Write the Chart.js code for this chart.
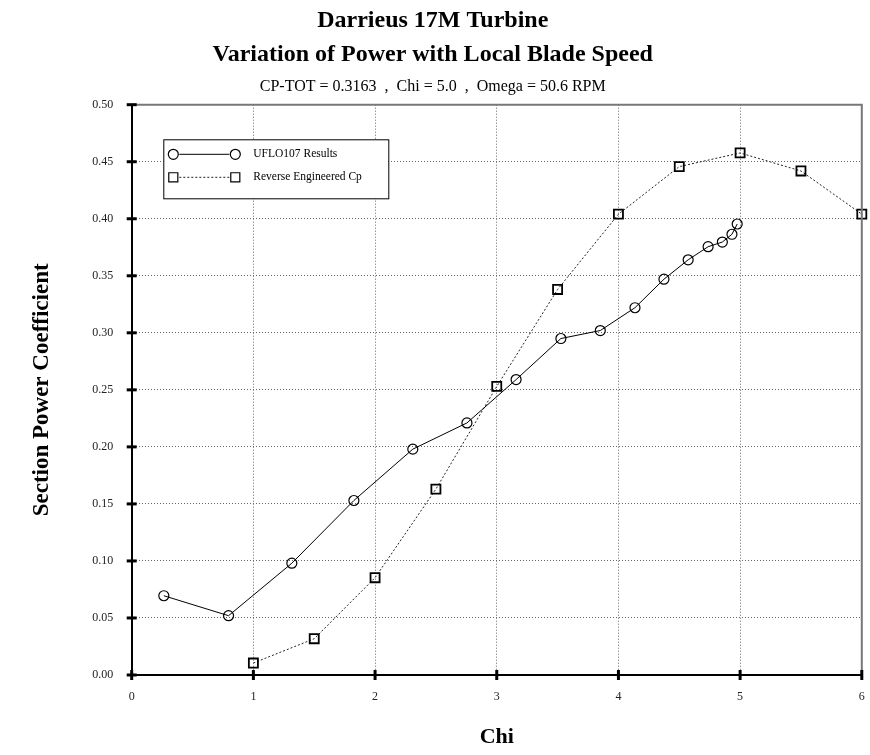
<!DOCTYPE html>
<html>
<head>
<meta charset="utf-8">
<script src="https://cdn.jsdelivr.net/npm/chart.js@4/dist/chart.umd.min.js"></script>
<style>
  body { margin: 0; background: #fff; }
  #wrap { width: 870px; height: 755px; }
</style>
</head>
<body>
<div id="wrap"><canvas id="cpChart"></canvas></div>
<script>
// UFLO107 results (circles, solid line)
const ufloChi = [0.264, 0.796, 1.316, 1.826, 2.31, 2.755, 3.159, 3.527, 3.851, 4.136, 4.374, 4.573, 4.737, 4.854, 4.933, 4.976];
const ufloCp  = [0.0695, 0.052, 0.098, 0.153, 0.198, 0.221, 0.259, 0.295, 0.302, 0.322, 0.347, 0.364, 0.3755, 0.3796, 0.3864, 0.3954];

// Reverse engineered Cp (squares, dotted line)
const revChi = [1, 1.5, 2, 2.5, 3, 3.5, 4, 4.5, 5, 5.5, 6];
const revCp  = [0.0105, 0.0318, 0.0853, 0.163, 0.253, 0.338, 0.404, 0.4457, 0.4577, 0.4419, 0.404];

const xTickLabels = ['0', '1', '2', '3', '4', '5', '6'];
const yTickLabels = ['0.00', '0.05', '0.10', '0.15', '0.20', '0.25', '0.30', '0.35', '0.40', '0.45', '0.50'];

const seriesNames = ['UFLO107 Results', 'Reverse Engineered Cp'];

const FONT = '"Liberation Serif", "Times New Roman", serif';
Chart.defaults.color = '#000';
Chart.defaults.font.family = FONT;

function toPoints(xs, ys) {
    return xs.map((x, i) => ({ x: x, y: ys[i] }));
}

// frame, crossing tick marks and the boxed legend
const decorations = {
    id: 'decorations',
    afterDatasetsDraw(chart) {
        const { ctx, chartArea: a, scales } = chart;
        ctx.save();

        // top and right edges
        ctx.strokeStyle = '#777';
        ctx.lineWidth = 2;
        ctx.beginPath();
        ctx.moveTo(a.left, a.top);
        ctx.lineTo(a.right, a.top);
        ctx.lineTo(a.right, a.bottom);
        ctx.stroke();

        // tick marks across the axes
        ctx.strokeStyle = '#000';
        ctx.lineWidth = 3;
        scales.y.ticks.forEach(t => {
            const py = scales.y.getPixelForValue(t.value);
            ctx.beginPath();
            ctx.moveTo(a.left - 5, py);
            ctx.lineTo(a.left + 5, py);
            ctx.stroke();
        });
        scales.x.ticks.forEach(t => {
            const px = scales.x.getPixelForValue(t.value);
            ctx.beginPath();
            ctx.moveTo(px, a.bottom - 5);
            ctx.lineTo(px, a.bottom + 5);
            ctx.stroke();
        });

        // legend box
        const bx = a.left + 31.6, by = a.top + 34.6, bw = 225, bh = 59;
        ctx.fillStyle = '#fff';
        ctx.fillRect(bx, by, bw, bh);
        ctx.lineWidth = 1;
        ctx.strokeStyle = '#000';
        ctx.strokeRect(bx + 0.5, by + 0.5, bw, bh);

        const rows = [by + 15, by + 38];
        const m1 = bx + 10, m2 = bx + 72;
        chart.data.datasets.forEach((ds, i) => {
            const ry = rows[i];
            ctx.strokeStyle = ds.borderColor;
            ctx.lineWidth = 1;
            ctx.setLineDash(ds.borderDash || []);
            ctx.beginPath();
            ctx.moveTo(m1 + 6, ry);
            ctx.lineTo(m2 - 6, ry);
            ctx.stroke();
            ctx.setLineDash([]);
            ctx.fillStyle = 'rgba(0,0,0,0)';
            ctx.strokeStyle = '#000';
            ctx.lineWidth = 1.2;
            [m1, m2].forEach(mx => {
                Chart.helpers.drawPoint(ctx, {
                    pointStyle: ds.pointStyle,
                    radius: ds.pointRadius,
                    borderWidth: 1.2
                }, mx, ry);
            });
            ctx.fillStyle = '#000';
            ctx.font = '11.5px ' + FONT;
            ctx.textBaseline = 'middle';
            ctx.textAlign = 'left';
            ctx.fillText(ds.label, bx + 90, ry);
        });
        ctx.restore();
    }
};

const ctx = document.getElementById('cpChart').getContext('2d');
const cpChart = new Chart(ctx, {
    type: 'scatter',
    data: {
        datasets: [
            {
                label: seriesNames[0],
                data: toPoints(ufloChi, ufloCp),
                showLine: true,
                borderColor: '#000',
                borderWidth: 1,
                pointStyle: 'circle',
                pointRadius: 5,
                pointBorderWidth: 1.2,
                pointBorderColor: '#000',
                pointBackgroundColor: 'rgba(0,0,0,0)',
                clip: 12
            },
            {
                label: seriesNames[1],
                data: toPoints(revChi, revCp),
                showLine: true,
                borderColor: '#222',
                borderWidth: 1,
                borderDash: [2, 2],
                pointStyle: 'rect',
                pointRadius: 6.4,
                pointBorderWidth: 1.8,
                pointBorderColor: '#000',
                pointBackgroundColor: 'rgba(0,0,0,0)',
                clip: 12
            }
        ]
    },
    options: {
        responsive: true,
        maintainAspectRatio: false,
        animation: false,
        layout: { padding: { left: 0, right: 4.5, top: 0, bottom: 0 } },
        plugins: {
            legend: { display: false },
            tooltip: { enabled: false },
            title: {
                display: true,
                text: ['Darrieus 17M Turbine', 'Variation of Power with Local Blade Speed'],
                font: { size: 24, weight: 'bold', lineHeight: 34 / 24 },
                padding: { top: 3.5, bottom: 5.3 },
                color: '#000'
            },
            subtitle: {
                display: true,
                text: 'CP-TOT = 0.3163  ,  Chi = 5.0  ,  Omega = 50.6 RPM',
                font: { size: 16, lineHeight: 1.2 },
                padding: { top: 0, bottom: 8.7 },
                color: '#000'
            }
        },
        scales: {
            x: {
                type: 'linear',
                min: 0,
                max: 6,
                afterFit(scale) {
                    scale.height = 80;
                    scale.paddingLeft = 0;
                    scale.paddingRight = 0;
                },
                ticks: {
                    stepSize: 1,
                    padding: 15,
                    color: '#222',
                    font: { size: 12 },
                    callback: (v) => xTickLabels[Math.round(v)]
                },
                grid: {
                    color: '#666',
                    lineWidth: 1,
                    drawTicks: false
                },
                border: { display: true, color: '#000', width: 2, dash: [1, 2] },
                title: {
                    display: true,
                    text: 'Chi',
                    font: { size: 22, weight: 'bold', lineHeight: 1.2 },
                    padding: { top: 0, bottom: 4.8 }
                }
            },
            y: {
                type: 'linear',
                min: 0,
                max: 0.5,
                afterFit(scale) { scale.width = 131.7; },
                ticks: {
                    stepSize: 0.05,
                    padding: 18.4,
                    color: '#222',
                    font: { size: 12 },
                    callback: (v) => yTickLabels[Math.round(v / 0.05)]
                },
                grid: {
                    color: '#666',
                    lineWidth: 1,
                    drawTicks: false
                },
                border: { display: true, color: '#000', width: 2, dash: [1, 2] },
                title: {
                    display: true,
                    text: 'Section Power Coefficient',
                    font: { size: 23, weight: 'bold', lineHeight: 1.2 },
                    padding: { top: 28.2, bottom: 0 }
                }
            }
        }
    },
    plugins: [decorations]
});
</script>
</body>
</html>
